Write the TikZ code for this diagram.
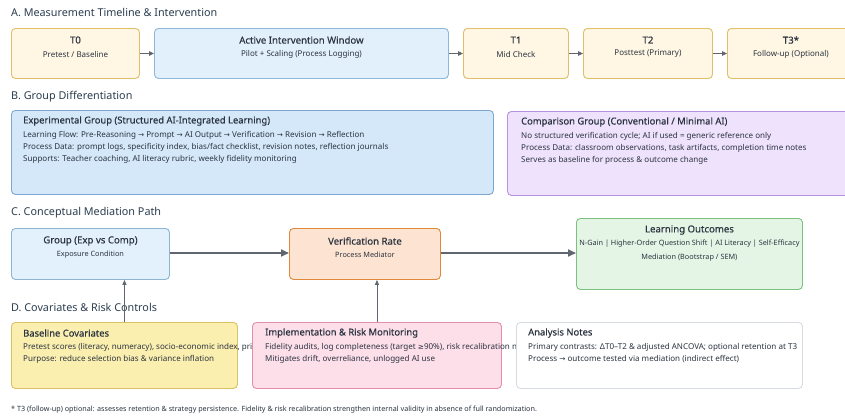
\documentclass[tikz,border=0pt]{standalone}
\usepackage{fontspec}
\setmainfont{Noto Sans}
\newfontfamily\semib[FakeBold=0.5]{Noto Sans}
\newfontfamily\symf{DejaVu Sans}
\usetikzlibrary{arrows.meta,calc}
\definecolor{tlfill}{HTML}{FFF6E3}\definecolor{tldraw}{HTML}{E2BE6A}
\definecolor{actfill}{HTML}{E2F0FB}\definecolor{actdraw}{HTML}{8FB7D9}
\definecolor{expfill}{HTML}{D5E8FA}\definecolor{expdraw}{HTML}{7EA7CF}
\definecolor{compfill}{HTML}{EFE2FC}\definecolor{compdraw}{HTML}{B891E0}
\definecolor{grpfill}{HTML}{E2F1FB}\definecolor{grpdraw}{HTML}{8CB4D3}
\definecolor{verfill}{HTML}{FDE4D2}\definecolor{verdraw}{HTML}{E0893A}
\definecolor{outfill}{HTML}{E5F5E5}\definecolor{outdraw}{HTML}{7BC17E}
\definecolor{basefill}{HTML}{FBEFB0}\definecolor{basedraw}{HTML}{D9C164}
\definecolor{impfill}{HTML}{FDDFEA}\definecolor{impdraw}{HTML}{E38FAB}
\definecolor{anadraw}{HTML}{D7DCE2}
\definecolor{txt}{HTML}{2B3440}
\definecolor{head}{HTML}{2C3E50}
\definecolor{arr}{HTML}{5F6670}
\newcommand{\ra}{{\symf\fontsize{7.3pt}{7.3pt}\selectfont →}}
\begin{document}
\begin{tikzpicture}[x=1pt,y=-1pt,
  box/.style={draw, rounded corners=4pt, line width=0.9pt, inner sep=0pt, anchor=north west},
  heading/.style={anchor=west, inner sep=0pt, text=head, font=\fontsize{10.8pt}{12pt}\selectfont},
  btitle/.style={inner sep=0pt, text=txt, font=\semib\fontsize{9.6pt}{11pt}\selectfont},
  bsub/.style={inner sep=0pt, text=txt, font=\fontsize{8pt}{9pt}\selectfont},
  msub/.style={inner sep=0pt, text=txt, font=\fontsize{7.3pt}{9pt}\selectfont},
  ltitle/.style={inner sep=0pt, anchor=west, text=txt, font=\semib\fontsize{9.4pt}{11pt}\selectfont},
  lline/.style={inner sep=0pt, anchor=west, text=txt, font=\fontsize{8.05pt}{9pt}\selectfont},
  tlarrow/.style={draw=arr, line width=1.1pt, -{Triangle[length=5pt,width=4.5pt]}},
  bigarrow/.style={draw=arr, line width=1.8pt, -{Triangle[length=8pt,width=7pt]}},
  uparrow/.style={draw=arr, line width=0.9pt, -{Triangle[length=5pt,width=4pt]}}
]
\clip (0,0) rectangle (845,418);
\fill[white] (0,0) rectangle (845,418);

% A
\node[heading] (hA) at (11,12) {A. Measurement Timeline \& Intervention};
\node[box, fill=tlfill, draw=tldraw, minimum width=128pt, minimum height=50pt] (t0) at (11,28) {};
\node[box, fill=actfill, draw=actdraw, minimum width=294pt, minimum height=50pt] (act) at (154,28) {};
\node[box, fill=tlfill, draw=tldraw, minimum width=105pt, minimum height=50pt] (t1) at (463,28) {};
\node[box, fill=tlfill, draw=tldraw, minimum width=129pt, minimum height=50pt] (t2) at (583,28) {};
\node[box, fill=tlfill, draw=tldraw, minimum width=127pt, minimum height=50pt] (t3) at (727,28) {};
\foreach \n/\a/\b in {t0/T0/{Pretest / Baseline}, act/{Active Intervention Window}/{Pilot + Scaling (Process Logging)}, t1/T1/{Mid Check}, t2/T2/{Posttest (Primary)}, t3/T3*/{Follow-up (Optional)}}{
  \node[btitle] (\n-t) at ($(\n.north)+(0,12)$) {\a};
  \node[bsub] (\n-s) at ($(\n.north)+(0,26)$) {\b};
}
\draw[tlarrow] (t0) -- (act);
\draw[tlarrow] (act) -- (t1);
\draw[tlarrow] (t1) -- (t2);
\draw[tlarrow] (t2) -- (t3);

% B
\node[heading] (hB) at (11,97) {B. Group Differentiation};
\node[box, fill=expfill, draw=expdraw, minimum width=482pt, minimum height=84pt] (exp) at (11,110) {};
\node[ltitle] (exp-t) at ($(exp.north west)+(12,11)$) {Experimental Group (Structured AI-Integrated Learning)};
\node[lline] (exp-1) at ($(exp.north west)+(12,25)$) {Learning Flow: Pre-Reasoning \ra{} Prompt \ra{} AI Output \ra{} Verification \ra{} Revision \ra{} Reflection};
\node[lline] (exp-2) at ($(exp.north west)+(12,37)$) {Process Data: prompt logs, specificity index, bias/fact checklist, revision notes, reflection journals};
\node[lline] (exp-3) at ($(exp.north west)+(12,49)$) {Supports: Teacher coaching, AI literacy rubric, weekly fidelity monitoring};

\node[box, fill=compfill, draw=compdraw, minimum width=345pt, minimum height=84pt] (comp) at (507,111) {};
\node[ltitle] (comp-t) at ($(comp.north west)+(14,11)$) {Comparison Group (Conventional / Minimal AI)};
\node[lline] (comp-1) at ($(comp.north west)+(14,25)$) {No structured verification cycle; AI if used = generic reference only};
\node[lline] (comp-2) at ($(comp.north west)+(14,37)$) {Process Data: classroom observations, task artifacts, completion time notes};
\node[lline] (comp-3) at ($(comp.north west)+(14,49)$) {Serves as baseline for process \& outcome change};

% C
\node[heading] (hC) at (11,213) {C. Conceptual Mediation Path};
\node[box, fill=grpfill, draw=grpdraw, minimum width=158pt, minimum height=51pt] (grp) at (11,228) {};
\node[btitle] (grp-t) at ($(grp.north)+(0,13)$) {Group (Exp vs Comp)};
\node[msub] (grp-s) at ($(grp.north)+(0,27)$) {Exposure Condition};
\node[box, fill=verfill, draw=verdraw, minimum width=151pt, minimum height=51pt] (ver) at (289,228) {};
\node[btitle] (ver-t) at ($(ver.north)+(0,13)$) {Verification Rate};
\node[msub] (ver-s) at ($(ver.north)+(0,27)$) {Process Mediator};
\node[box, fill=outfill, draw=outdraw, minimum width=226pt, minimum height=71pt] (out) at (576,218) {};
\node[btitle] (out-t) at ($(out.north)+(0,12)$) {Learning Outcomes};
\node[msub] (out-1) at ($(out.north)+(0,26)$) {N-Gain | Higher-Order Question Shift | AI Literacy | Self-Efficacy};
\node[msub] (out-2) at ($(out.north)+(0,40)$) {Mediation (Bootstrap / SEM)};
\draw[bigarrow] (grp.east |- 0,253) coordinate (ga) -- (ver.west |- ga);
\draw[bigarrow] (ver.east |- ga) -- (out.west |- ga);

% D
\node[heading] (hD) at (11,307) {D. Covariates \& Risk Controls};
\node[box, fill=basefill, draw=basedraw, minimum width=226pt, minimum height=66pt] (base) at (11,322) {};
\node[ltitle] (base-t) at ($(base.north west)+(12,11)$) {Baseline Covariates};
\node[lline] (base-1) at ($(base.north west)+(12,25)$) {Pretest scores (literacy, numeracy), socio-economic index, pri};
\node[lline] (base-2) at ($(base.north west)+(12,37)$) {Purpose: reduce selection bias \& variance inflation};
\node[box, fill=impfill, draw=impdraw, minimum width=249pt, minimum height=66pt] (imp) at (252,322) {};
\node[ltitle] (imp-t) at ($(imp.north west)+(13,11)$) {Implementation \& Risk Monitoring};
\node[lline] (imp-1) at ($(imp.north west)+(13,25)$) {Fidelity audits, log completeness (target {\symf\fontsize{7.3pt}{7.3pt}\selectfont ≥}90\%), risk recalibration n};
\node[lline] (imp-2) at ($(imp.north west)+(13,37)$) {Mitigates drift, overreliance, unlogged AI use};
\node[box, fill=white, draw=anadraw, minimum width=286pt, minimum height=66pt] (ana) at (516,322) {};
\node[ltitle] (ana-t) at ($(ana.north west)+(12,11)$) {Analysis Notes};
\node[lline] (ana-1) at ($(ana.north west)+(12,25)$) {Primary contrasts: ΔT0–T2 \& adjusted ANCOVA; optional retention at T3};
\node[lline] (ana-2) at ($(ana.north west)+(12,37)$) {Process \ra{} outcome tested via mediation (indirect effect)};

\draw[uparrow] (base.north) -- (base.north |- grp.south);
\draw[uparrow] (imp.north) -- (imp.north |- ver.south);

% footnote
\node[anchor=west, inner sep=0pt, text=txt, font=\fontsize{7.2pt}{8pt}\selectfont] (fn) at (11,410) {* T3 (follow-up) optional: assesses retention \& strategy persistence. Fidelity \& risk recalibration strengthen internal validity in absence of full randomization.};
\end{tikzpicture}
\end{document}
